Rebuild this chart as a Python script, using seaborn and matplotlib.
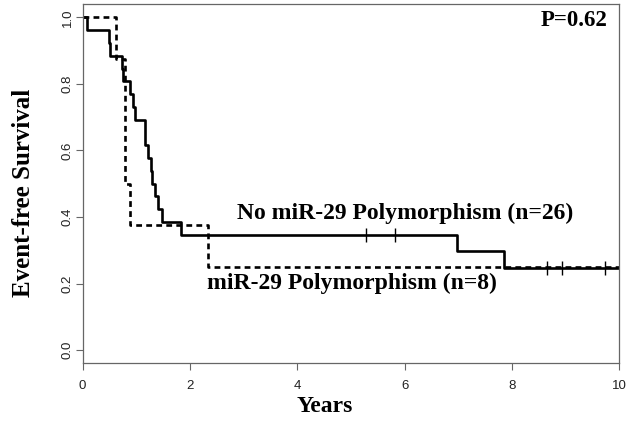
import numpy as np
import pandas as pd
import seaborn as sns
import matplotlib
matplotlib.use('Agg')
import matplotlib.pyplot as plt

# Follow-up times in years, event = 1 (relapse/death), 0 = censored
no_poly_times = [0.075, 0.49, 0.51, 0.73, 0.76, 0.89, 0.94, 0.97, 1.16, 1.16,
                 1.22, 1.27, 1.30, 1.35, 1.40, 1.47, 1.84, 5.28, 5.82, 6.98,
                 7.86, 8.65, 8.93, 9.73, 10.5, 11.0]
no_poly_events = [1, 1, 1, 1, 1, 1, 1, 1, 1, 1,
                  1, 1, 1, 1, 1, 1, 1, 0, 0, 1,
                  1, 0, 0, 0, 0, 0]

poly_times = [0.62, 0.79, 0.79, 0.79, 0.88, 2.34, 10.5, 11.0]
poly_events = [1, 1, 1, 1, 1, 1, 0, 0]

p_value = 'P=0.62'
label_no = 'No miR-29 Polymorphism (n=26)'
label_yes = 'miR-29 Polymorphism (n=8)'


# Kaplan-Meier estimate -> step points and censor marks
def kaplanMeier(times, events):
    df = pd.DataFrame({'t': times, 'e': events}).sort_values('t')
    n = len(df)
    s = 1.0
    steps = [(0.0, 1.0)]
    censor = []
    for t, grp in df.groupby('t'):
        d = grp['e'].sum()
        c = len(grp) - d
        if d > 0:
            s = s * (1 - d / n)
            steps.append((t, s))
        if c > 0:
            censor.append((t, s))
        n -= len(grp)
    steps.append((df['t'].max(), s))
    return pd.DataFrame(steps, columns=['t', 's']), pd.DataFrame(censor, columns=['t', 's'])


sns.set_style('ticks')
plt.rcParams['font.family'] = ['Liberation Sans', 'DejaVu Sans']
plt.rcParams['text.color'] = 'black'
plt.rcParams['axes.labelcolor'] = 'black'

fig = plt.figure(figsize=(6.36, 4.23), dpi=100)
ax = fig.add_axes([0.130, 0.141, 0.8437, 0.8495])

steps_no, cens_no = kaplanMeier(no_poly_times, no_poly_events)
steps_yes, cens_yes = kaplanMeier(poly_times, poly_events)

sns.lineplot(data=steps_no, x='t', y='s', drawstyle='steps-post', estimator=None,
             sort=False, color='black', linewidth=1.9, ax=ax)
sns.lineplot(data=steps_yes, x='t', y='s', drawstyle='steps-post', estimator=None,
             sort=False, color='black', linewidth=1.9, ax=ax, dashes=False)
ax.lines[-1].set_dashes((2.2, 1.6))

sns.scatterplot(data=cens_no, x='t', y='s', marker='|', s=90, color='black',
                linewidth=1.0, ax=ax)

ax.set_xlim(0, 10)
ax.set_ylim(-0.04, 1.04)
ax.set_xticks([0, 2, 4, 6, 8, 10])
ax.set_yticks([0.0, 0.2, 0.4, 0.6, 0.8, 1.0])
ax.set_yticklabels(['0.0', '0.2', '0.4', '0.6', '0.8', '1.0'])
ax.tick_params(axis='both', length=5, width=0.8, color='#666666', labelsize=9.5,
               labelcolor='#222222')
ax.tick_params(axis='x', pad=7)
ax.tick_params(axis='y', labelrotation=90, pad=1.5)
for lab in ax.get_yticklabels():
    lab.set_va('center')
for sp in ax.spines.values():
    sp.set_visible(True)
    sp.set_color('#666666')
    sp.set_linewidth(0.9)

serif = ['Liberation Serif', 'DejaVu Serif']
ax.set_xlabel('Years', family=serif, fontweight='bold', fontsize=17)
ax.xaxis.set_label_coords(0.4516, -0.092)
ax.set_ylabel('Event-free Survival', family=serif, fontweight='bold', fontsize=18)
ax.yaxis.set_label_coords(-0.088, 0.474)

ax.text(9.16, 0.99, p_value, family=serif, fontweight='bold', fontsize=16.5,
        ha='center', va='center', color='black')
ax.text(6.0, 0.41, label_no, family=serif, fontweight='bold', fontsize=17,
        ha='center', va='center', color='black')
ax.text(5.01, 0.20, label_yes, family=serif, fontweight='bold', fontsize=17,
        ha='center', va='center', color='black')

fig.savefig('out.png', dpi=100)
